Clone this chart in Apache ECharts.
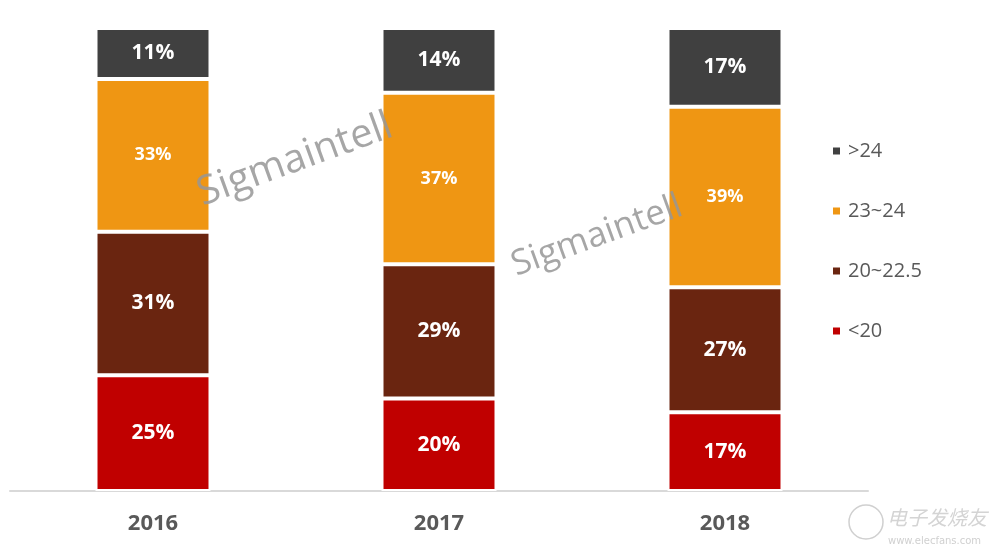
<!DOCTYPE html>
<html><head><meta charset="utf-8">
<script src="https://cdn.jsdelivr.net/npm/echarts@6/dist/echarts.min.js"></script>
<style>html,body{margin:0;padding:0;background:#fff}#c{width:998px;height:554px}</style>
</head><body><div id="c"></div>
<script>
const years = ['2016', '2017', '2018'];
const lt20 = [25, 20, 17];
const s20_225 = [31, 29, 27];
const s23_24 = [33, 37, 39];
const gt24 = [11, 14, 17];
const seriesNames = ['<20', '20~22.5', '23~24', '>24'];
const colors = ['#c00000', '#6a2510', '#ef9613', '#404040'];
const watermark = 'Sigmaintell';

const chart = echarts.init(document.getElementById('c'));
function mk(name, data, color, fs) {
  return {
    name, type: 'bar', stack: 'total', data, barWidth: 115,
    itemStyle: { color, borderColor: '#fff', borderWidth: 2 },
    label: { show: true, position: 'inside', formatter: '{c}%', color: '#fff',
      fontWeight: 'bold', fontSize: fs, fontFamily: 'Open Sans' }
  };
}
chart.setOption({
  animation: false,
  grid: { left: 10, right: 130, top: 28, bottom: 63 },
  xAxis: { type: 'category', data: years,
    axisLine: { lineStyle: { color: '#d9d9d9', width: 2 } }, axisTick: { show: false },
    axisLabel: { color: '#595959', fontSize: 22, fontWeight: 'bold', fontFamily: 'Open Sans', margin: 22 } },
  yAxis: { type: 'value', min: 0, max: 100, show: false, splitLine: { show: false } },
  legend: { orient: 'vertical', left: 831, top: 139, itemWidth: 9, itemHeight: 9, itemGap: 36, padding: 0,
    icon: 'rect', data: ['>24', '23~24', '20~22.5', '<20'],
    textStyle: { color: '#595959', fontSize: 20, fontFamily: 'Open Sans', lineHeight: 24, padding: [0, 0, 0, 2] } },
  series: [
    mk(seriesNames[0], lt20, colors[0], 21),
    mk(seriesNames[1], s20_225, colors[1], 21),
    mk(seriesNames[2], s23_24, colors[2], 18),
    mk(seriesNames[3], gt24, colors[3], 21)
  ],
  graphic: [
    { type: 'text', x: 295, y: 160, rotation: 20 * Math.PI / 180, z: 100,
      style: { text: watermark, fill: 'rgba(150,150,150,0.85)', font: '40px "Open Sans"', align: 'center', verticalAlign: 'middle' } },
    { type: 'text', x: 597, y: 236, rotation: 20 * Math.PI / 180, z: 100,
      style: { text: watermark, fill: 'rgba(150,150,150,0.85)', font: '35px "Open Sans"', align: 'center', verticalAlign: 'middle' } },
    { type: 'circle', shape: { cx: 866, cy: 522, r: 17 }, z: 100,
      style: { fill: 'none', stroke: '#d0d0d0', lineWidth: 1.5 } },
    { type: 'text', x: 887, y: 507, z: 100,
      style: { text: '电子发烧友', fill: '#d4d4d4', font: 'italic 20px "Noto Sans CJK SC"' } },
    { type: 'text', x: 888, y: 536, z: 100,
      style: { text: 'www.elecfans.com', fill: '#d0d0d0', font: '10px "DejaVu Sans"' } }
  ]
});
</script></body></html>
